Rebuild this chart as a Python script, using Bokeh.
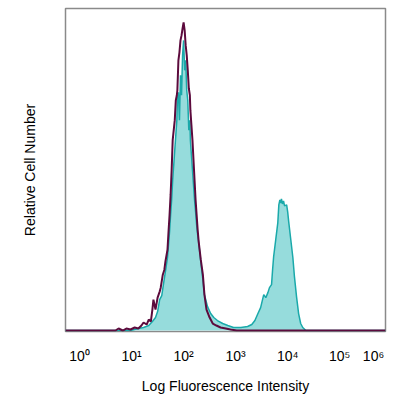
from bokeh.plotting import figure
from bokeh.models import Range1d, FixedTicker, ColumnDataSource
from bokeh.embed import file_html
from bokeh.resources import INLINE

# log10 fluorescence intensity and relative cell counts
ctrl_log = [-0.27, 0.69, 0.75, 0.83, 0.90, 0.98, 1.06, 1.13, 1.19, 1.23, 1.29, 1.33, 1.37, 1.40, 1.42,
            1.46, 1.50, 1.54, 1.56, 1.60, 1.63, 1.65, 1.69, 1.71, 1.73, 1.75, 1.77, 1.79, 1.81, 1.83,
            1.85, 1.87, 1.88, 1.90, 1.92, 1.94, 1.96, 1.98, 2.00, 2.02, 2.04, 2.06, 2.08, 2.10, 2.12,
            2.13, 2.15, 2.17, 2.19, 2.21, 2.23, 2.25, 2.27, 2.29, 2.33, 2.37, 2.40, 2.44, 2.50, 2.56,
            2.63, 2.71, 2.81, 2.90, 3.02, 5.88]
ctrl_cnt = [0, 0, 2, 0, 2, 1, 3, 2, 5, 8, 6, 11, 9, 21, 31,
            21, 33, 39, 43, 56, 61, 69, 81, 99, 116, 136, 161, 191, 201, 211,
            231, 236, 241, 271, 279, 291, 296, 303, 309, 301, 286, 276, 261, 243, 236,
            221, 206, 191, 171, 151, 131, 116, 101, 89, 71, 56, 36, 21, 13, 7,
            5, 3, 2, 1, 0, 0]

stain_log = [-0.27, 0.98, 1.13, 1.23, 1.33, 1.40, 1.46, 1.50, 1.54, 1.58, 1.62, 1.65, 1.69, 1.71, 1.73,
             1.75, 1.77, 1.79, 1.81, 1.83, 1.85, 1.87, 1.88, 1.90, 1.92, 1.94, 1.96, 1.98, 2.00, 2.02,
             2.04, 2.06, 2.08, 2.10, 2.12, 2.13, 2.15, 2.17, 2.19, 2.21, 2.23, 2.25, 2.27, 2.29, 2.33,
             2.37, 2.40, 2.46, 2.52, 2.58, 2.65, 2.75, 2.85, 2.96, 3.10, 3.23, 3.31, 3.37, 3.42, 3.48,
             3.54, 3.58, 3.62, 3.65, 3.69, 3.71, 3.73, 3.77, 3.81, 3.83, 3.85, 3.87, 3.88, 3.90, 3.92,
             3.94, 3.98, 4.00, 4.02, 4.06, 4.10, 4.13, 4.17, 4.21, 4.25, 4.29, 4.35, 5.88]
stain_cnt = [0, 0, 2, 3, 5, 9, 13, 19, 31, 35, 49, 59, 73, 86, 99,
             116, 131, 151, 166, 181, 196, 211, 231, 239, 211, 256, 236, 276, 291, 261,
             271, 241, 231, 201, 211, 191, 176, 161, 146, 131, 119, 106, 96, 88, 69,
             51, 36, 24, 17, 13, 10, 7, 5, 3, 3, 4, 6, 10, 16, 23,
             36, 33, 38, 43, 46, 61, 74, 91, 108, 126, 131, 128, 132, 127, 130,
             125, 126, 119, 109, 91, 73, 54, 34, 17, 7, 3, 0, 0]

tick_positions = [0, 1, 2, 3, 4, 5, 5.65]
tick_labels = ["10\u2070", "10\u00b9", "10\u00b2", "10\u00b3", "10\u2074", "10\u2075", "10\u2076"]

FONT = "Liberation Sans"

p = figure(width=391, height=396, output_backend="svg", toolbar_location=None,
           x_range=Range1d(-0.27, 5.88), y_range=Range1d(-1, 323),
           min_border_left=65, min_border_right=6, min_border_top=8, min_border_bottom=64)

p.xgrid.visible = False
p.ygrid.visible = False
p.outline_line_color = "#8a8a8a"
p.outline_line_width = 1.5
p.background_fill_color = "white"
p.border_fill_color = "white"

stain = ColumnDataSource(dict(x=stain_log, y=stain_cnt, y0=[0] * len(stain_cnt)))
ctrl = ColumnDataSource(dict(x=ctrl_log, y=ctrl_cnt))

p.varea(x="x", y1="y0", y2="y", source=stain, fill_color="#96dcdc", fill_alpha=1)
p.line(x="x", y="y", source=stain, line_color="#1aa9aa", line_width=1.5)
p.line(x="x", y="y", source=ctrl, line_color="#5c0b3d", line_width=2)

xa = p.xaxis[0]
xa.ticker = FixedTicker(ticks=tick_positions)
xa.major_label_overrides = {t: l for t, l in zip(tick_positions, tick_labels)}
xa.major_tick_line_color = None
xa.minor_tick_line_color = None
xa.major_tick_out = 0
xa.major_tick_in = 0
xa.axis_line_color = None
xa.major_label_standoff = 16
xa.major_label_text_font = FONT
xa.major_label_text_font_size = "14px"
xa.major_label_text_color = "black"
xa.axis_label = "Log Fluorescence Intensity"
xa.axis_label_text_font = FONT
xa.axis_label_text_font_size = "14px"
xa.axis_label_text_font_style = "normal"
xa.axis_label_text_color = "black"
xa.axis_label_standoff = 11

ya = p.yaxis[0]
ya.ticker = FixedTicker(ticks=[])
ya.major_tick_line_color = None
ya.minor_tick_line_color = None
ya.major_tick_out = 0
ya.axis_line_color = None
ya.axis_label = "Relative Cell Number"
ya.axis_label_text_font = FONT
ya.axis_label_text_font_size = "14px"
ya.axis_label_text_font_style = "normal"
ya.axis_label_text_color = "black"
ya.axis_label_standoff = 28

open("out.html", "w").write(file_html(p, INLINE))
